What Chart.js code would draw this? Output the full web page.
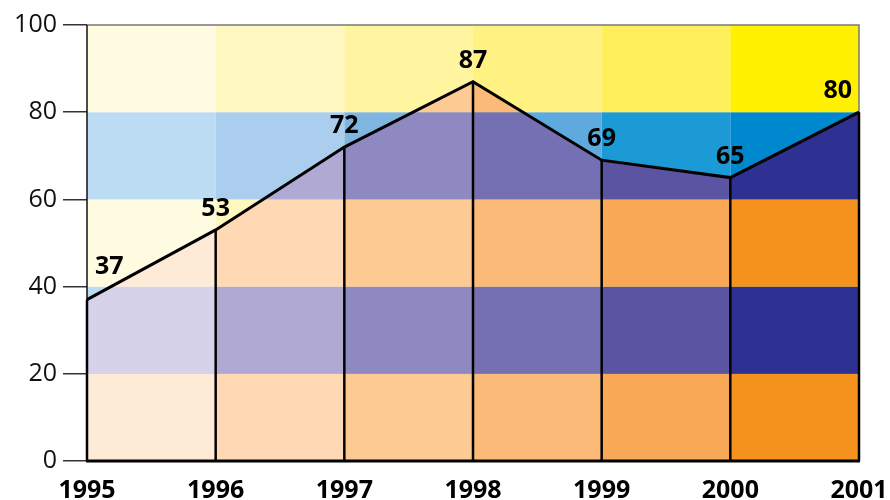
<!DOCTYPE html>
<html>
<head>
<meta charset="utf-8">
<title>1995–2001</title>
<script src="https://cdn.jsdelivr.net/npm/chart.js@4/dist/chart.umd.min.js"></script>
<style>
  html, body { margin: 0; padding: 0; background: #ffffff; }
  canvas { display: block; }
</style>
</head>
<body>
<canvas id="chart" width="890" height="500"></canvas>
<script>
// Yearly values
const years = [1995, 1996, 1997, 1998, 1999, 2000, 2001];
const values = [37, 53, 72, 87, 69, 65, 80];
const yTicks = [0, 20, 40, 60, 80, 100];

// Column shades, lightest (left) to darkest (right)
const yellowShades = ['#FFFBE1', '#FFF7C0', '#FFF4A0', '#FFF283', '#FFEF5A', '#FFF100'];
const blueShades   = ['#BBDCF3', '#ABCDEE', '#7FB6E1', '#5EA9DD', '#1C9AD6', '#0088CF'];
const orangeShades = ['#FEEBD7', '#FED9B3', '#FDCA93', '#FCBA78', '#F9A955', '#F6931E'];
const purpleShades = ['#D5D2EA', '#AFA9D4', '#8F89C2', '#7570B3', '#5B54A3', '#2E3192'];

const FONT = '"Open Sans", "Noto Sans", sans-serif';

function aboveColor(band, col) { return (band % 2 === 0 ? yellowShades : blueShades)[col]; }
function belowColor(band, col) { return (band % 2 === 0 ? orangeShades : purpleShades)[col]; }

// Background cells: one set above the line, another clipped beneath it,
// plus drop lines and the frame.
const cellsPlugin = {
  id: 'cells',
  beforeDatasetsDraw(chart) {
    const { ctx, chartArea: a, scales: { x, y } } = chart;
    const paint = (colorFn) => {
      for (let i = 0; i < years.length - 1; i++) {
        const x0 = x.getPixelForValue(years[i]);
        const x1 = x.getPixelForValue(years[i + 1]);
        for (let j = 0; j < yTicks.length - 1; j++) {
          const y0 = y.getPixelForValue(yTicks[j]);
          const y1 = y.getPixelForValue(yTicks[j + 1]);
          ctx.fillStyle = colorFn(j, i);
          ctx.fillRect(x0, y1, x1 - x0, y0 - y1);
        }
      }
    };
    ctx.save();
    paint(aboveColor);
    ctx.beginPath();
    ctx.moveTo(x.getPixelForValue(years[0]), y.getPixelForValue(0));
    years.forEach((yr, k) => ctx.lineTo(x.getPixelForValue(yr), y.getPixelForValue(values[k])));
    ctx.lineTo(x.getPixelForValue(years[years.length - 1]), y.getPixelForValue(0));
    ctx.closePath();
    ctx.clip();
    paint(belowColor);
    ctx.restore();

    // frame
    ctx.save();
    ctx.lineWidth = 1.5;
    ctx.strokeStyle = '#7a7a7a';
    ctx.beginPath();
    ctx.moveTo(a.left, a.top);
    ctx.lineTo(a.right, a.top);
    ctx.lineTo(a.right, a.bottom);
    ctx.stroke();
    ctx.strokeStyle = '#111';
    ctx.beginPath();
    ctx.moveTo(a.left, a.top);
    ctx.lineTo(a.left, a.bottom);
    ctx.stroke();

    // drop lines from each point to the baseline
    ctx.lineWidth = 2.5;
    ctx.strokeStyle = '#000';
    years.forEach((yr, k) => {
      const px = x.getPixelForValue(yr);
      ctx.beginPath();
      ctx.moveTo(px, y.getPixelForValue(0));
      ctx.lineTo(px, y.getPixelForValue(values[k]));
      ctx.stroke();
    });

    // baseline
    ctx.lineWidth = 3;
    ctx.beginPath();
    ctx.moveTo(a.left - 1, a.bottom);
    ctx.lineTo(a.right + 1, a.bottom);
    ctx.stroke();
    ctx.restore();
  },
  afterDatasetsDraw(chart) {
    const { ctx, chartArea: a, scales: { x, y } } = chart;
    const pts = years.map((yr, k) => ({ px: x.getPixelForValue(yr), py: y.getPixelForValue(values[k]) }));
    const lineYAt = (px) => {
      for (let k = 0; k < pts.length - 1; k++) {
        if (px >= pts[k].px && px <= pts[k + 1].px) {
          const t = (px - pts[k].px) / (pts[k + 1].px - pts[k].px);
          return pts[k].py + t * (pts[k + 1].py - pts[k].py);
        }
      }
      return pts[pts.length - 1].py;
    };
    ctx.save();
    ctx.font = 'bold 25px ' + FONT;
    ctx.fillStyle = '#000';
    ctx.textAlign = 'center';
    ctx.textBaseline = 'alphabetic';
    values.forEach((v, k) => {
      const text = String(v);
      const w = ctx.measureText(text).width;
      let cx = Math.max(a.left + 8 + w / 2, Math.min(a.right - 7 - w / 2, pts[k].px));
      const cy = Math.min(lineYAt(cx), pts[k].py) - 23;
      ctx.fillText(text, cx, cy + 9);
    });
    ctx.restore();
  }
};

new Chart(document.getElementById('chart'), {
  type: 'line',
  data: {
    datasets: [{
      data: years.map((yr, k) => ({ x: yr, y: values[k] })),
      borderColor: '#000',
      borderWidth: 3,
      borderJoinStyle: 'miter',
      tension: 0,
      pointRadius: 0,
      fill: false,
      clip: false
    }]
  },
  options: {
    responsive: false,
    animation: false,
    devicePixelRatio: 1,
    layout: { padding: { top: 25, right: 31, bottom: 0, left: 0 } },
    plugins: { legend: { display: false }, tooltip: { enabled: false } },
    scales: {
      x: {
        type: 'linear',
        min: years[0],
        max: years[years.length - 1],
        afterFit(scale) {
          scale.height = 39;
          scale.paddingLeft = 0;
          scale.paddingRight = 0;
        },
        afterBuildTicks(scale) { scale.ticks = years.map(v => ({ value: v })); },
        grid: { display: false, drawTicks: false },
        border: { display: false },
        ticks: {
          color: '#000',
          padding: 15,
          maxRotation: 0,
          autoSkip: false,
          font: { family: FONT, size: 25, weight: 'bold' },
          callback: (v) => String(v)
        }
      },
      y: {
        min: yTicks[0],
        max: yTicks[yTicks.length - 1],
        afterFit(scale) {
          scale.width = 87;
          scale.paddingTop = 0;
          scale.paddingBottom = 0;
        },
        afterBuildTicks(scale) { scale.ticks = yTicks.map(v => ({ value: v })); },
        grid: { drawOnChartArea: false, drawTicks: true, tickLength: 24, color: '#333', lineWidth: 1.5 },
        border: { display: false },
        ticks: {
          color: '#111',
          padding: 6,
          font: { family: FONT, size: 25 },
          callback: (v) => String(v)
        }
      }
    }
  },
  plugins: [cellsPlugin]
});
</script>
</body>
</html>
